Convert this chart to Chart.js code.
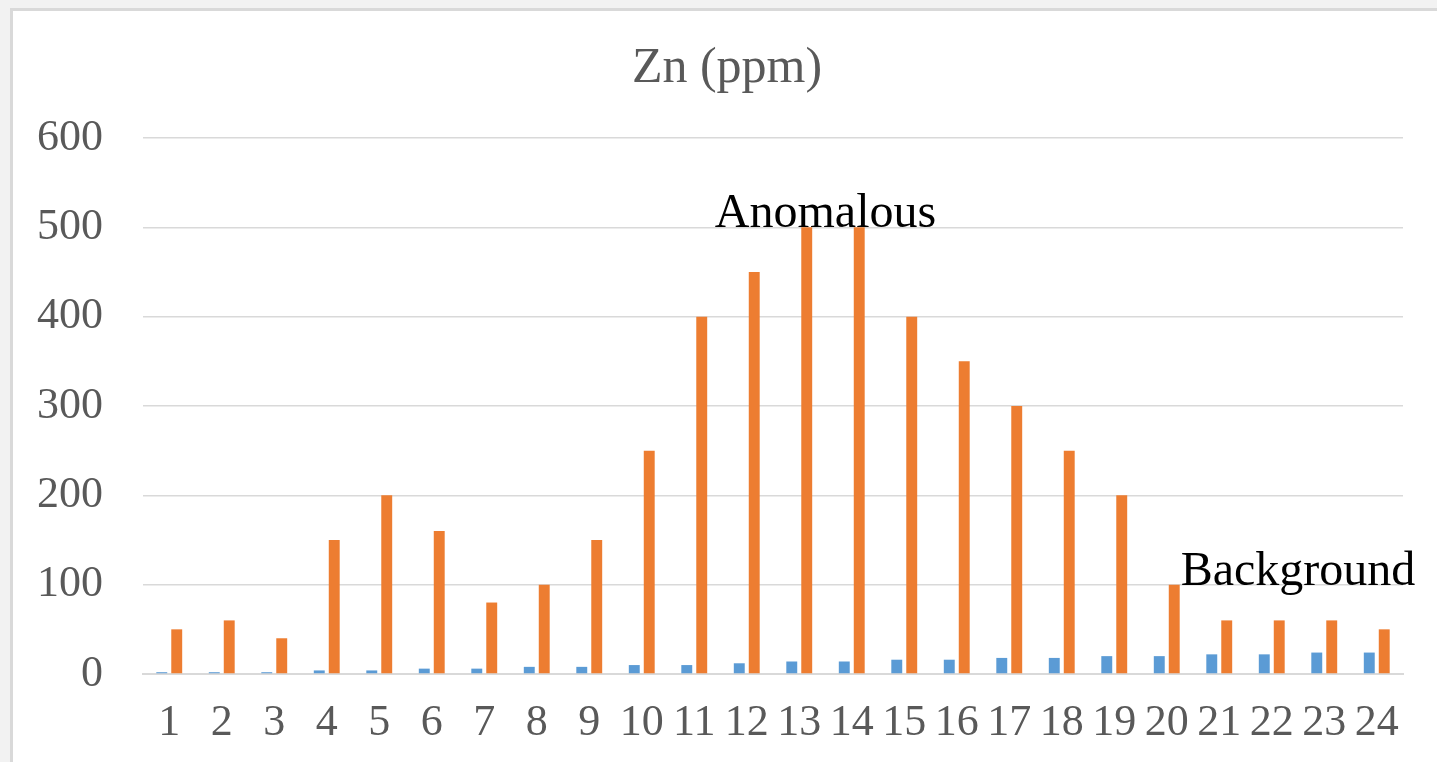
<!DOCTYPE html>
<html>
<head>
<meta charset="utf-8">
<script src="https://cdn.jsdelivr.net/npm/chart.js@4/dist/chart.umd.min.js"></script>
<style>
  html, body { margin: 0; padding: 0; background: #f2f2f2; }
  #wrap { width: 1437px; height: 762px; }
</style>
</head>
<body>
<div id="wrap"><canvas id="chart" width="1437" height="762"></canvas></div>
<script>
const samples = ['1','2','3','4','5','6','7','8','9','10','11','12','13','14','15','16','17','18','19','20','21','22','23','24'];
const backgroundZn = [2, 2, 2, 4, 4, 6, 6, 8, 8, 10, 10, 12, 14, 14, 16, 16, 18, 18, 20, 20, 22, 22, 24, 24];
const measuredZn = [50, 60, 40, 150, 200, 160, 80, 100, 150, 250, 400, 450, 500, 500, 400, 350, 300, 250, 200, 100, 60, 60, 60, 50];
const yTicks = [0, 100, 200, 300, 400, 500, 600];

// zone labels written on the plot (x as category index, y as value at baseline)
const zoneText = ['Anomalous', 'Background'];
const zoneX = [12.5, 21.5];
const zoneY = [500, 100];

const serif = "'Liberation Serif', 'Times New Roman', serif";

// light grey frame around the white chart box
const framePlugin = {
    id: 'frame',
    beforeDraw(chart) {
        const ctx = chart.ctx;
        ctx.save();
        ctx.fillStyle = '#f2f2f2';
        ctx.fillRect(0, 0, chart.width, chart.height);
        ctx.fillStyle = '#ffffff';
        ctx.fillRect(11, 9, chart.width, chart.height);
        ctx.strokeStyle = '#d9d9d9';
        ctx.lineWidth = 3;
        ctx.strokeRect(11.5, 9.5, chart.width + 20, chart.height + 20);
        ctx.restore();
    }
};

// chart title and the two zone labels
const textPlugin = {
    id: 'texts',
    afterDatasetsDraw(chart) {
        const ctx = chart.ctx;
        const x = chart.scales.x;
        const y = chart.scales.y;
        ctx.save();
        ctx.textAlign = 'center';
        ctx.textBaseline = 'alphabetic';
        ctx.fillStyle = '#595959';
        ctx.font = '50px ' + serif;
        ctx.fillText('Zn (ppm)', 727, 82);
        ctx.fillStyle = '#000000';
        ctx.font = '48px ' + serif;
        zoneText.forEach((t, i) => {
            ctx.fillText(t, x.getPixelForValue(zoneX[i]), y.getPixelForValue(zoneY[i]));
        });
        ctx.restore();
    }
};

const config = {
    type: 'bar',
    data: {
        labels: samples,
        datasets: [{
            label: 'Background',
            data: backgroundZn,
            backgroundColor: '#5b9bd5',
            categoryPercentage: 0.57,
            barPercentage: 0.73
        }, {
            label: 'Zn',
            data: measuredZn,
            backgroundColor: '#ed7d31',
            categoryPercentage: 0.57,
            barPercentage: 0.73
        }]
    },
    options: {
        responsive: false,
        animation: false,
        layout: { padding: { top: 138, right: 34, left: 0, bottom: 0 } },
        plugins: {
            legend: { display: false },
            title: { display: false },
            tooltip: { enabled: false }
        },
        scales: {
            x: {
                afterFit(scale) {
                    scale.height = 88;
                },
                grid: { display: false, drawTicks: false },
                border: { display: true, color: '#d9d9d9', width: 2 },
                ticks: {
                    color: '#595959',
                    font: { family: serif, size: 44 },
                    padding: 23,
                    maxRotation: 0,
                    autoSkip: false
                }
            },
            y: {
                min: 0,
                max: 600,
                afterBuildTicks(scale) {
                    scale.ticks = yTicks.map(v => ({ value: v }));
                },
                afterFit(scale) {
                    scale.width = 143;
                },
                grid: { color: '#d9d9d9', lineWidth: 1.5, drawTicks: false },
                border: { display: false },
                ticks: {
                    color: '#595959',
                    font: { family: serif, size: 44 },
                    padding: 40
                }
            }
        }
    },
    plugins: [framePlugin, textPlugin]
};

const ctx = document.getElementById('chart').getContext('2d');
const myChart = new Chart(ctx, config);
</script>
</body>
</html>
